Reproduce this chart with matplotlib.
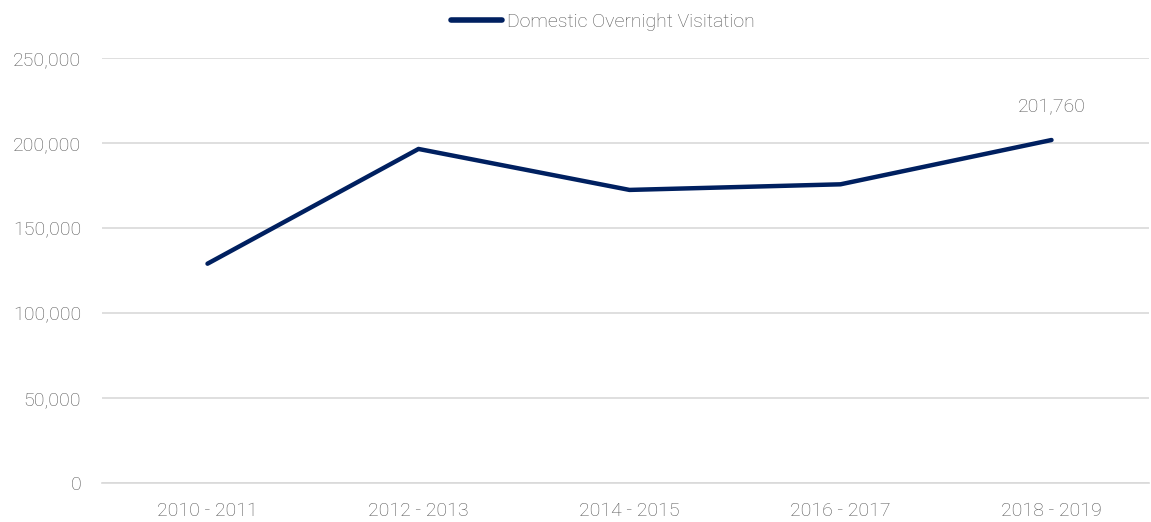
import matplotlib
matplotlib.use("Agg")
import matplotlib.pyplot as plt
from matplotlib.ticker import FuncFormatter

categories = ["2010 - 2011", "2012 - 2013", "2014 - 2015", "2016 - 2017", "2018 - 2019"]
visitation = [129000, 196500, 172400, 175700, 201760]
series_name = "Domestic Overnight Visitation"

plt.rcParams['font.family'] = ['Roboto', 'DejaVu Sans']
grey = '#555555'
navy = '#002060'
fs = 14

fig = plt.figure(figsize=(11.51, 5.22), dpi=100)
ax = fig.add_axes([102/1151, 39/522, 1047/1151, 425/522])

x = list(range(len(categories)))
ax.plot(x, visitation, color=navy, lw=3.2, solid_capstyle='round', solid_joinstyle='round', label=series_name)

ax.set_xlim(-0.5, -0.5 + 1047/211)
ax.set_ylim(0, 250000)
ax.set_yticks([0, 50000, 100000, 150000, 200000, 250000])
ax.yaxis.set_major_formatter(FuncFormatter(lambda v, p: f"{int(v):,}"))
ax.set_xticks(x)
ax.set_xticklabels(categories)
ax.grid(axis='y', color='#d9d9d9', lw=1.2)
ax.set_axisbelow(True)
for s in ['top', 'right', 'left']:
    ax.spines[s].set_visible(False)
ax.spines['bottom'].set_color('#d9d9d9')
ax.spines['bottom'].set_linewidth(1.2)
ax.tick_params(axis='both', length=0, colors=grey, labelsize=fs)
ax.tick_params(axis='y', pad=15)
ax.tick_params(axis='x', pad=14)
for lab in ax.get_xticklabels() + ax.get_yticklabels():
    lab.set_fontweight('light')

ax.annotate(f"{visitation[-1]:,}", (x[-1], visitation[-1]), xytext=(0, 17), textcoords='offset points',
            ha='center', va='bottom', color=grey, fontsize=fs, fontweight='light')

leg = fig.legend(loc='center', bbox_to_anchor=(0.524, 0.958), frameon=False, fontsize=fs,
                 handlelength=2.6, handletextpad=0.3)
for t in leg.get_texts():
    t.set_color(grey)
    t.set_fontweight('light')
for h in leg.get_lines():
    h.set_linewidth(4)

fig.savefig("out.png", dpi=100)
